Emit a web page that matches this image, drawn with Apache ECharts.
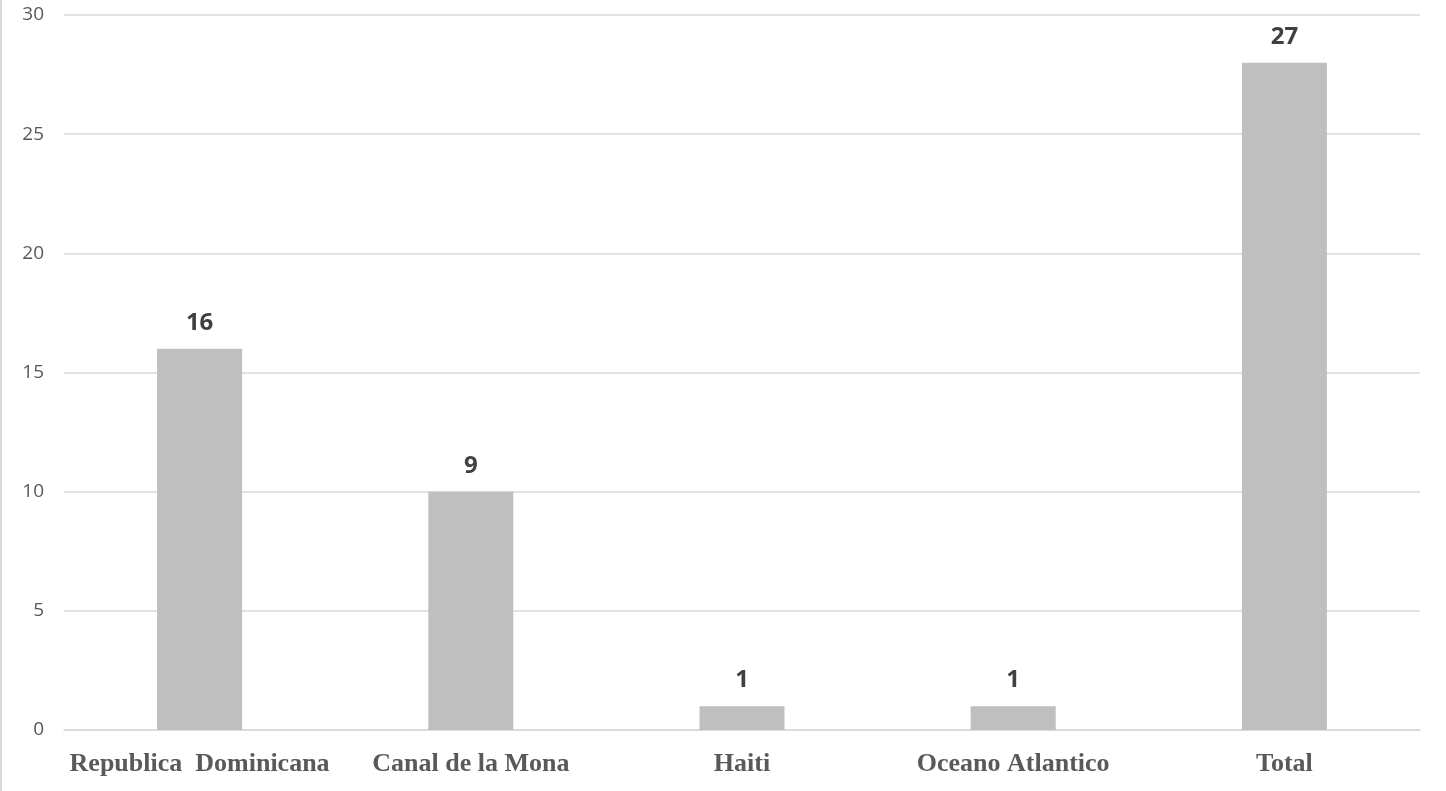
<!DOCTYPE html>
<html>
<head>
<meta charset="utf-8">
<script src="https://cdn.jsdelivr.net/npm/echarts@6/dist/echarts.min.js"></script>
<style>
html,body{margin:0;padding:0;background:#fff;}
#chart{width:1444px;height:791px;border-left:2px solid #d9d9d9;}
</style>
</head>
<body>
<div id="chart"></div>
<script>
const categories = ['Republica  Dominicana', 'Canal de la Mona', 'Haiti', 'Oceano Atlantico', 'Total'];
const barValues = [16, 10, 1, 1, 28];
const labelValues = ['16', '9', '1', '1', '27'];
const yTicks = { min: 0, max: 30, interval: 5 };

const chart = echarts.init(document.getElementById('chart'));
chart.setOption({
  animation: false,
  grid: { left: 62, right: 26, top: 15, bottom: 61, containLabel: false },
  xAxis: {
    type: 'category',
    data: categories,
    axisLine: { show: true, lineStyle: { color: '#d9d9d9', width: 1.5 } },
    axisTick: { show: false },
    axisLabel: {
      interval: 0,
      margin: 21,
      color: '#595959',
      fontFamily: 'Liberation Serif',
      fontWeight: 'bold',
      fontSize: 26
    }
  },
  yAxis: {
    type: 'value',
    min: yTicks.min, max: yTicks.max, interval: yTicks.interval,
    axisLine: { show: false },
    axisTick: { show: false },
    splitLine: { lineStyle: { color: '#d9d9d9', width: 1.5 } },
    axisLabel: {
      margin: 20,
      color: '#595959',
      fontFamily: 'Open Sans',
      fontSize: 19
    }
  },
  series: [{
    type: 'bar',
    data: barValues,
    barWidth: 85,
    itemStyle: { color: '#bfbfbf' },
    label: {
      show: true,
      position: 'top',
      distance: 14,
      formatter: p => labelValues[p.dataIndex],
      color: '#404040',
      fontFamily: 'Open Sans',
      fontWeight: 'bold',
      fontSize: 24
    }
  }]
});
</script>
</body>
</html>
